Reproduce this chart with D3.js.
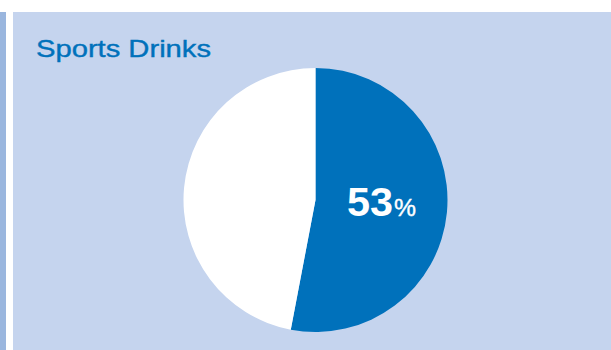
<!DOCTYPE html>
<html>
<head>
<meta charset="utf-8">
<script src="https://cdn.jsdelivr.net/npm/d3@7"></script>
<style>
  html, body { margin: 0; padding: 0; background: #ffffff; }
  svg { display: block; }
</style>
</head>
<body>
<svg id="chart" width="611" height="350"></svg>
<script>
// Share of respondents: sports drinks
const title = "Sports Drinks";
const categories = ["Yes", "No"];
const shares = [53, 47];
const sliceColors = ["#0071bb", "#ffffff"];

const W = 611, H = 350;
const FONT = "Liberation Sans, Arial, Helvetica, sans-serif";
const svg = d3.select("#chart");

// left accent strip and panel
svg.append("rect").attr("x", 0).attr("y", 12).attr("width", 6).attr("height", H - 12).attr("fill", "#9ab6de");
svg.append("rect").attr("x", 13).attr("y", 12).attr("width", W - 13).attr("height", H - 12).attr("fill", "#c5d4ee");

// wide-set heading
svg.append("text")
  .attr("x", 36).attr("y", 57)
  .attr("font-family", FONT)
  .attr("font-size", 24.5)
  .attr("fill", "#0071bb")
  .attr("stroke", "#0071bb").attr("stroke-width", 0.4)
  .attr("textLength", 175).attr("lengthAdjust", "spacingAndGlyphs")
  .text(title);

const cx = 315.5, cy = 200, r = 132;
const color = d3.scaleOrdinal().domain(categories).range(sliceColors);
const pie = d3.pie().sort(null).value(d => d.v);
const arc = d3.arc().innerRadius(0).outerRadius(r);
const data = categories.map((c, i) => ({ c, v: shares[i] }));

const g = svg.append("g").attr("transform", `translate(${cx},${cy})`);
g.selectAll("path").data(pie(data)).join("path")
  .attr("d", arc)
  .attr("fill", d => color(d.data.c));

// value label inside the highlighted slice
g.append("text")
  .attr("x", 31.5).attr("y", 16)
  .attr("font-family", FONT)
  .attr("font-weight", "bold")
  .attr("font-size", 40)
  .attr("fill", "#ffffff")
  .attr("textLength", 46).attr("lengthAdjust", "spacingAndGlyphs")
  .text(shares[0]);
g.append("text")
  .attr("x", 78.5).attr("y", 16)
  .attr("font-family", FONT)
  .attr("font-size", 24)
  .attr("fill", "#ffffff")
  .attr("stroke", "#ffffff").attr("stroke-width", 0.4)
  .attr("textLength", 22).attr("lengthAdjust", "spacingAndGlyphs")
  .text("%");
</script>
</body>
</html>
